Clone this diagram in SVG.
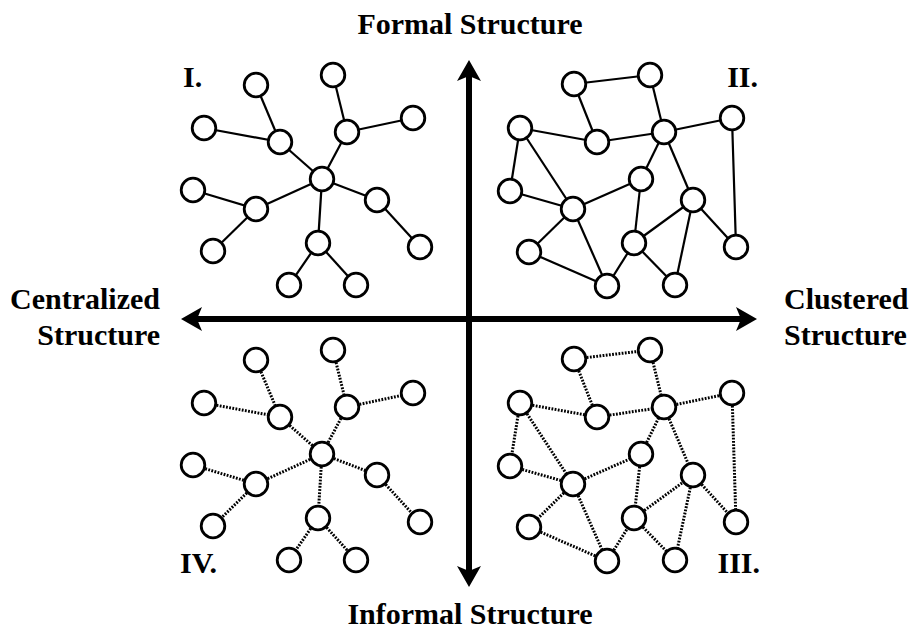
<svg xmlns="http://www.w3.org/2000/svg" width="910" height="632" viewBox="0 0 910 632">
<style>
.n{fill:#fff;stroke:#000;stroke-width:2.8}
.s{stroke:#000;stroke-width:2.2;fill:none}
.d{stroke:#000;stroke-width:3;stroke-dasharray:1.8 1.4;fill:none}
.ax{stroke:#000;stroke-width:6;fill:none}
text{font-family:"Liberation Serif","Times New Roman",serif;font-weight:bold;fill:#000}
.lab{font-size:30px}
.q{font-size:30px}
</style>
<defs>
<marker id="ah" markerUnits="userSpaceOnUse" viewBox="-6 -13 23 26" markerWidth="23" markerHeight="26" refX="0" refY="0" orient="auto-start-reverse">
<path d="M16,0 L-5,-12 L0,0 L-5,12 Z" fill="#000"/>
</marker>
</defs>
<rect width="910" height="632" fill="#fff"/>
<g id="axes">
<line class="ax" x1="197" y1="319" x2="741" y2="319" marker-start="url(#ah)" marker-end="url(#ah)"/>
<line class="ax" x1="469" y1="76" x2="469" y2="571" marker-start="url(#ah)" marker-end="url(#ah)"/>
</g>
<g id="connectors">
<g id="c-q1" class="s">
<line x1="256" y1="85" x2="280" y2="142"/>
<line x1="204" y1="128" x2="280" y2="142"/>
<line x1="280" y1="142" x2="322" y2="179"/>
<line x1="333" y1="75" x2="347" y2="132"/>
<line x1="347" y1="132" x2="413" y2="118"/>
<line x1="347" y1="132" x2="322" y2="179"/>
<line x1="193" y1="190" x2="256" y2="209"/>
<line x1="256" y1="209" x2="322" y2="179"/>
<line x1="256" y1="209" x2="213" y2="251"/>
<line x1="322" y1="179" x2="377" y2="200"/>
<line x1="377" y1="200" x2="420" y2="247"/>
<line x1="322" y1="179" x2="318" y2="243"/>
<line x1="318" y1="243" x2="289" y2="285"/>
<line x1="318" y1="243" x2="356" y2="285"/>
</g>
<g id="c-q4" class="d">
<line x1="256" y1="360" x2="280" y2="417"/>
<line x1="204" y1="403" x2="280" y2="417"/>
<line x1="280" y1="417" x2="322" y2="454"/>
<line x1="333" y1="350" x2="347" y2="407"/>
<line x1="347" y1="407" x2="413" y2="393"/>
<line x1="347" y1="407" x2="322" y2="454"/>
<line x1="193" y1="465" x2="256" y2="484"/>
<line x1="256" y1="484" x2="322" y2="454"/>
<line x1="256" y1="484" x2="213" y2="526"/>
<line x1="322" y1="454" x2="377" y2="475"/>
<line x1="377" y1="475" x2="420" y2="522"/>
<line x1="322" y1="454" x2="318" y2="518"/>
<line x1="318" y1="518" x2="289" y2="560"/>
<line x1="318" y1="518" x2="356" y2="560"/>
</g>
<g id="c-q2" class="s">
<line x1="574" y1="84" x2="650" y2="75"/>
<line x1="574" y1="84" x2="597" y2="142"/>
<line x1="650" y1="75" x2="664" y2="132"/>
<line x1="520" y1="128" x2="597" y2="142"/>
<line x1="597" y1="142" x2="664" y2="132"/>
<line x1="664" y1="132" x2="732" y2="118"/>
<line x1="520" y1="128" x2="510" y2="191"/>
<line x1="520" y1="128" x2="573" y2="209"/>
<line x1="510" y1="191" x2="573" y2="209"/>
<line x1="573" y1="209" x2="641" y2="179"/>
<line x1="641" y1="179" x2="664" y2="132"/>
<line x1="664" y1="132" x2="693" y2="200"/>
<line x1="641" y1="179" x2="634" y2="243"/>
<line x1="634" y1="243" x2="693" y2="200"/>
<line x1="693" y1="200" x2="736" y2="247"/>
<line x1="732" y1="118" x2="736" y2="247"/>
<line x1="573" y1="209" x2="529" y2="252"/>
<line x1="529" y1="252" x2="607" y2="286"/>
<line x1="573" y1="209" x2="607" y2="286"/>
<line x1="607" y1="286" x2="634" y2="243"/>
<line x1="634" y1="243" x2="675" y2="285"/>
<line x1="693" y1="200" x2="675" y2="285"/>
</g>
<g id="c-q3" class="d">
<line x1="574" y1="359" x2="650" y2="350"/>
<line x1="574" y1="359" x2="597" y2="417"/>
<line x1="650" y1="350" x2="664" y2="407"/>
<line x1="520" y1="403" x2="597" y2="417"/>
<line x1="597" y1="417" x2="664" y2="407"/>
<line x1="664" y1="407" x2="732" y2="393"/>
<line x1="520" y1="403" x2="510" y2="466"/>
<line x1="520" y1="403" x2="573" y2="484"/>
<line x1="510" y1="466" x2="573" y2="484"/>
<line x1="573" y1="484" x2="641" y2="454"/>
<line x1="641" y1="454" x2="664" y2="407"/>
<line x1="664" y1="407" x2="693" y2="475"/>
<line x1="641" y1="454" x2="634" y2="518"/>
<line x1="634" y1="518" x2="693" y2="475"/>
<line x1="693" y1="475" x2="736" y2="522"/>
<line x1="732" y1="393" x2="736" y2="522"/>
<line x1="573" y1="484" x2="529" y2="527"/>
<line x1="529" y1="527" x2="607" y2="561"/>
<line x1="573" y1="484" x2="607" y2="561"/>
<line x1="607" y1="561" x2="634" y2="518"/>
<line x1="634" y1="518" x2="675" y2="560"/>
<line x1="693" y1="475" x2="675" y2="560"/>
</g>
</g>
<g id="nodes-q1">
<g id="q1-a"><circle class="n" cx="256" cy="85" r="11.8"/></g>
<g id="q1-b"><circle class="n" cx="333" cy="75" r="11.8"/></g>
<g id="q1-c"><circle class="n" cx="204" cy="128" r="11.8"/></g>
<g id="q1-d"><circle class="n" cx="280" cy="142" r="11.8"/></g>
<g id="q1-e"><circle class="n" cx="347" cy="132" r="11.8"/></g>
<g id="q1-f"><circle class="n" cx="413" cy="118" r="11.8"/></g>
<g id="q1-g"><circle class="n" cx="322" cy="179" r="11.8"/></g>
<g id="q1-h"><circle class="n" cx="193" cy="190" r="11.8"/></g>
<g id="q1-i"><circle class="n" cx="256" cy="209" r="11.8"/></g>
<g id="q1-j"><circle class="n" cx="377" cy="200" r="11.8"/></g>
<g id="q1-k"><circle class="n" cx="213" cy="251" r="11.8"/></g>
<g id="q1-l"><circle class="n" cx="318" cy="243" r="11.8"/></g>
<g id="q1-m"><circle class="n" cx="420" cy="247" r="11.8"/></g>
<g id="q1-n"><circle class="n" cx="289" cy="285" r="11.8"/></g>
<g id="q1-o"><circle class="n" cx="356" cy="285" r="11.8"/></g>
</g>
<g id="nodes-q4">
<g id="q4-a"><circle class="n" cx="256" cy="360" r="11.8"/></g>
<g id="q4-b"><circle class="n" cx="333" cy="350" r="11.8"/></g>
<g id="q4-c"><circle class="n" cx="204" cy="403" r="11.8"/></g>
<g id="q4-d"><circle class="n" cx="280" cy="417" r="11.8"/></g>
<g id="q4-e"><circle class="n" cx="347" cy="407" r="11.8"/></g>
<g id="q4-f"><circle class="n" cx="413" cy="393" r="11.8"/></g>
<g id="q4-g"><circle class="n" cx="322" cy="454" r="11.8"/></g>
<g id="q4-h"><circle class="n" cx="193" cy="465" r="11.8"/></g>
<g id="q4-i"><circle class="n" cx="256" cy="484" r="11.8"/></g>
<g id="q4-j"><circle class="n" cx="377" cy="475" r="11.8"/></g>
<g id="q4-k"><circle class="n" cx="213" cy="526" r="11.8"/></g>
<g id="q4-l"><circle class="n" cx="318" cy="518" r="11.8"/></g>
<g id="q4-m"><circle class="n" cx="420" cy="522" r="11.8"/></g>
<g id="q4-n"><circle class="n" cx="289" cy="560" r="11.8"/></g>
<g id="q4-o"><circle class="n" cx="356" cy="560" r="11.8"/></g>
</g>
<g id="nodes-q2">
<g id="q2-p"><circle class="n" cx="574" cy="84" r="11.8"/></g>
<g id="q2-q"><circle class="n" cx="650" cy="75" r="11.8"/></g>
<g id="q2-r"><circle class="n" cx="520" cy="128" r="11.8"/></g>
<g id="q2-s"><circle class="n" cx="597" cy="142" r="11.8"/></g>
<g id="q2-t"><circle class="n" cx="664" cy="132" r="11.8"/></g>
<g id="q2-u"><circle class="n" cx="732" cy="118" r="11.8"/></g>
<g id="q2-v"><circle class="n" cx="641" cy="179" r="11.8"/></g>
<g id="q2-w"><circle class="n" cx="510" cy="191" r="11.8"/></g>
<g id="q2-x"><circle class="n" cx="573" cy="209" r="11.8"/></g>
<g id="q2-y"><circle class="n" cx="693" cy="200" r="11.8"/></g>
<g id="q2-z"><circle class="n" cx="529" cy="252" r="11.8"/></g>
<g id="q2-aa"><circle class="n" cx="634" cy="243" r="11.8"/></g>
<g id="q2-ab"><circle class="n" cx="736" cy="247" r="11.8"/></g>
<g id="q2-ac"><circle class="n" cx="607" cy="286" r="11.8"/></g>
<g id="q2-ad"><circle class="n" cx="675" cy="285" r="11.8"/></g>
</g>
<g id="nodes-q3">
<g id="q3-p"><circle class="n" cx="574" cy="359" r="11.8"/></g>
<g id="q3-q"><circle class="n" cx="650" cy="350" r="11.8"/></g>
<g id="q3-r"><circle class="n" cx="520" cy="403" r="11.8"/></g>
<g id="q3-s"><circle class="n" cx="597" cy="417" r="11.8"/></g>
<g id="q3-t"><circle class="n" cx="664" cy="407" r="11.8"/></g>
<g id="q3-u"><circle class="n" cx="732" cy="393" r="11.8"/></g>
<g id="q3-v"><circle class="n" cx="641" cy="454" r="11.8"/></g>
<g id="q3-w"><circle class="n" cx="510" cy="466" r="11.8"/></g>
<g id="q3-x"><circle class="n" cx="573" cy="484" r="11.8"/></g>
<g id="q3-y"><circle class="n" cx="693" cy="475" r="11.8"/></g>
<g id="q3-z"><circle class="n" cx="529" cy="527" r="11.8"/></g>
<g id="q3-aa"><circle class="n" cx="634" cy="518" r="11.8"/></g>
<g id="q3-ab"><circle class="n" cx="736" cy="522" r="11.8"/></g>
<g id="q3-ac"><circle class="n" cx="607" cy="561" r="11.8"/></g>
<g id="q3-ad"><circle class="n" cx="675" cy="560" r="11.8"/></g>
</g>
<g id="labels">
<text class="lab" x="470" y="34" text-anchor="middle">Formal Structure</text>
<text class="lab" x="470" y="624" text-anchor="middle">Informal Structure</text>
<text class="lab" x="160" y="309" text-anchor="end">Centralized</text>
<text class="lab" x="160" y="345" text-anchor="end">Structure</text>
<text class="lab" x="784" y="309">Clustered</text>
<text class="lab" x="784" y="345">Structure</text>
<text class="q" x="183" y="87">I.</text>
<text class="q" x="758" y="87" text-anchor="end">II.</text>
<text class="q" x="760" y="573" text-anchor="end">III.</text>
<text class="q" x="180" y="573">IV.</text>
</g>
</svg>
